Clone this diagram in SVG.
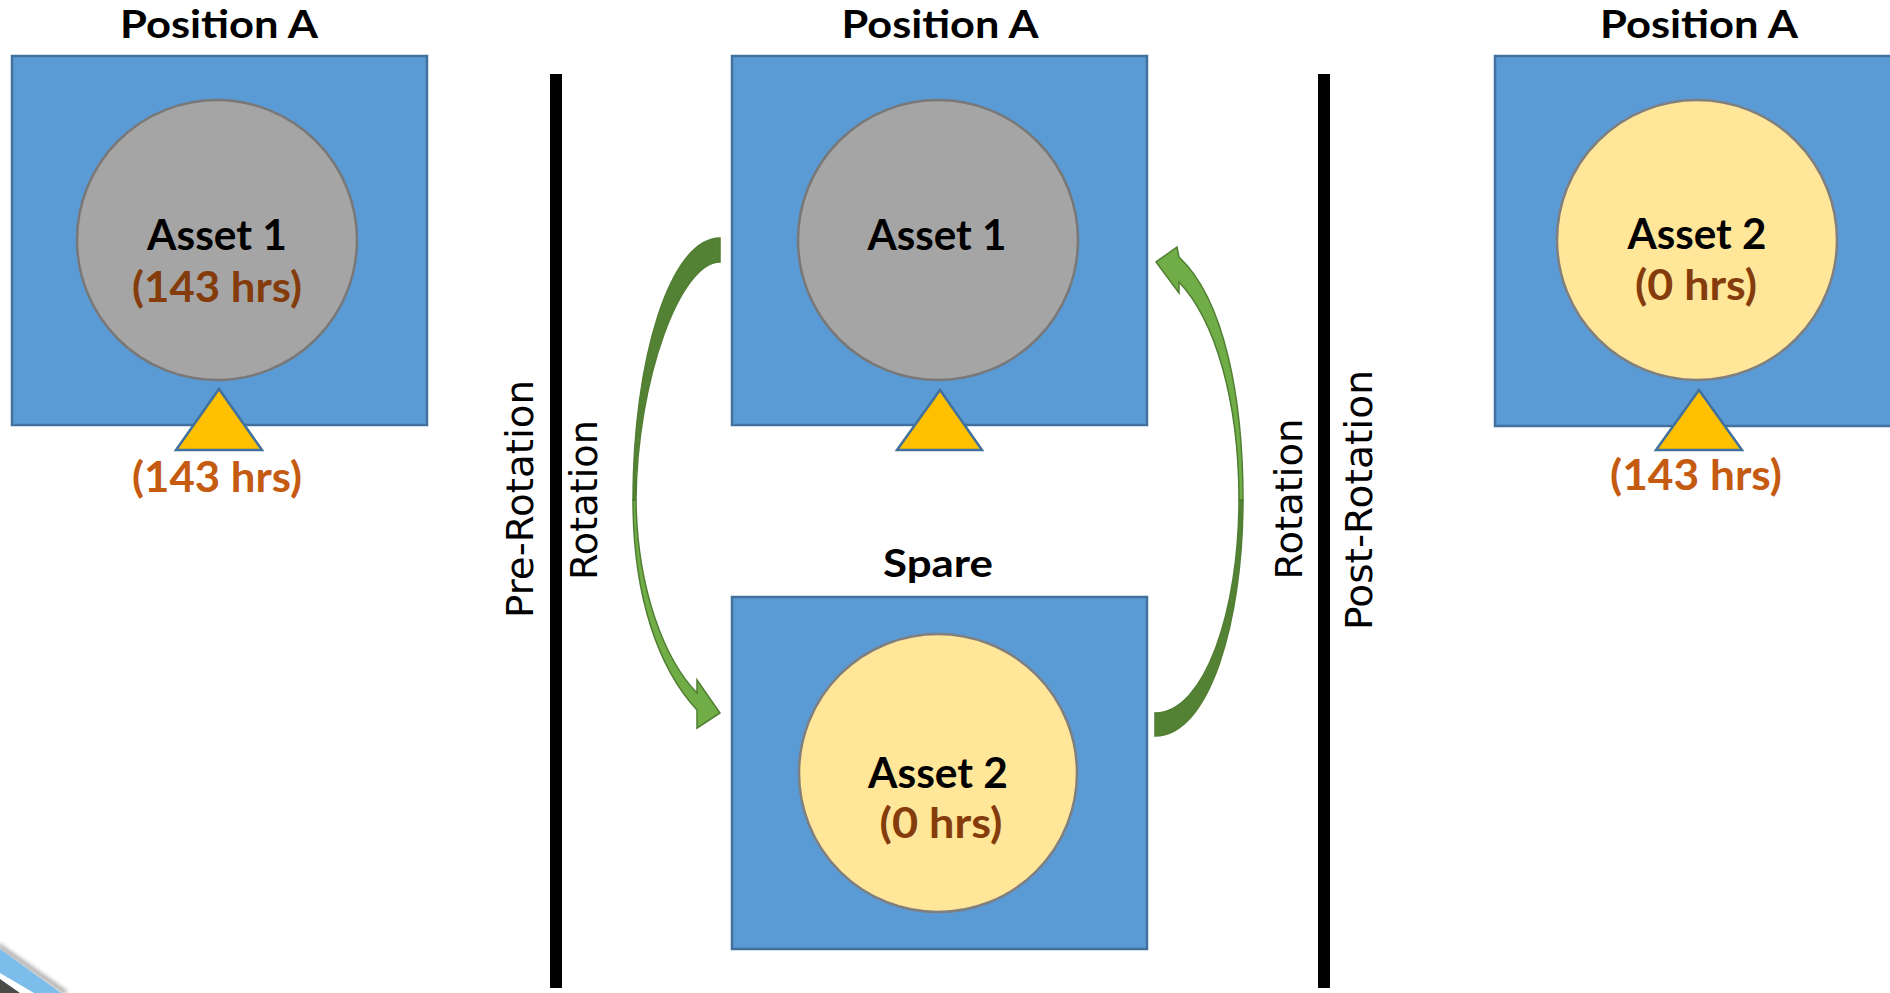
<svg xmlns="http://www.w3.org/2000/svg" width="1890" height="993" viewBox="0 0 1890 993">
<style>
.box{fill:#5B9BD5;stroke:#41719C;stroke-width:2.5}
.gray{fill:#A5A5A5;stroke:#787878;stroke-width:2.5}
.yel{fill:#FFE699;stroke:#7F7F7F;stroke-width:2.5}
.tri{fill:#FFC000;stroke:#41719C;stroke-width:2.5;stroke-linejoin:miter}
.title{font-family:Lato,"Liberation Sans",sans-serif;font-weight:bold;font-size:39px;fill:#000;text-anchor:middle}
.lbl{font-family:Lato,"Liberation Sans",sans-serif;font-weight:bold;font-size:42px;fill:#000;text-anchor:middle}
.hrs{font-family:Lato,"Liberation Sans",sans-serif;font-weight:bold;font-size:42px;fill:#843C0C;text-anchor:middle}
.hrs2{font-family:Lato,"Liberation Sans",sans-serif;font-weight:bold;font-size:42px;fill:#C55A11;text-anchor:middle}
.rot{font-family:"DejaVu Sans",sans-serif;font-size:37px;fill:#000;text-anchor:middle}
.dark{fill:#548235;stroke:#507E32;stroke-width:1.5}
.light{fill:#70AD47;stroke:#507E32;stroke-width:1.5;stroke-linejoin:miter}
</style>
<defs>
<filter id="blur" x="-20%" y="-20%" width="140%" height="140%"><feGaussianBlur stdDeviation="2"/></filter>
</defs>
<rect width="1890" height="993" fill="#fff"/>

<g id="corner-fragment">
<line x1="-2" y1="945" x2="66" y2="993" stroke="#777" stroke-width="4" filter="url(#blur)" opacity="0.7"/>
<polygon points="0,949 61,993 34,993 0,973" fill="#7DBDEB"/>
<polygon points="0,979 20,993 0,993" fill="#4A4A48"/>
</g>

<g id="pre-rotation-position-a">
<text class="title" x="219" y="38" textLength="198" lengthAdjust="spacingAndGlyphs">Position A</text>
<rect class="box" x="12" y="56" width="415" height="369"/>
<circle class="gray" cx="217" cy="240" r="140"/>
<text class="lbl" x="217" y="250" textLength="140" lengthAdjust="spacingAndGlyphs">Asset 1</text>
<text class="hrs" x="217" y="302" textLength="170" lengthAdjust="spacingAndGlyphs">(143 hrs)</text>
<polygon class="tri" points="219,389 262,450 176,450"/>
<text class="hrs2" x="217" y="492" textLength="170" lengthAdjust="spacingAndGlyphs">(143 hrs)</text>
</g>

<g id="dividers">
<rect x="550" y="74" width="12" height="914" fill="#000"/>
<rect x="1318" y="74" width="12" height="914" fill="#000"/>
<text class="rot" transform="translate(533,499) rotate(-90)" textLength="238" lengthAdjust="spacingAndGlyphs">Pre-Rotation</text>
<text class="rot" transform="translate(597,500) rotate(-90)" textLength="160" lengthAdjust="spacingAndGlyphs">Rotation</text>
<text class="rot" transform="translate(1302,499) rotate(-90)" textLength="161" lengthAdjust="spacingAndGlyphs">Rotation</text>
<text class="rot" transform="translate(1372,500) rotate(-90)" textLength="260" lengthAdjust="spacingAndGlyphs">Post-Rotation</text>
</g>

<g id="rotation-position-a">
<text class="title" x="940" y="38" textLength="197" lengthAdjust="spacingAndGlyphs">Position A</text>
<rect class="box" x="732" y="56" width="415" height="369"/>
<circle class="gray" cx="938" cy="240" r="140"/>
<text class="lbl" x="937" y="250" textLength="139" lengthAdjust="spacingAndGlyphs">Asset 1</text>
<polygon class="tri" points="940,390 982,450 897,450"/>
</g>

<g id="rotation-spare">
<text class="title" x="938" y="577" textLength="110" lengthAdjust="spacingAndGlyphs">Spare</text>
<rect class="box" x="732" y="597" width="415" height="352"/>
<circle class="yel" cx="938" cy="773" r="139"/>
<text class="lbl" x="938" y="788" textLength="140" lengthAdjust="spacingAndGlyphs">Asset 2</text>
<text class="hrs" x="941" y="838" textLength="123" lengthAdjust="spacingAndGlyphs">(0 hrs)</text>
</g>

<g id="post-rotation-position-a">
<text class="title" x="1699" y="38" textLength="198" lengthAdjust="spacingAndGlyphs">Position A</text>
<rect class="box" x="1495" y="56" width="415" height="370"/>
<circle class="yel" cx="1697" cy="240" r="140"/>
<text class="lbl" x="1697" y="249" textLength="139" lengthAdjust="spacingAndGlyphs">Asset 2</text>
<text class="hrs" x="1696" y="300" textLength="122" lengthAdjust="spacingAndGlyphs">(0 hrs)</text>
<polygon class="tri" points="1699,390 1742,450 1656,450"/>
<text class="hrs2" x="1696" y="490" textLength="172" lengthAdjust="spacingAndGlyphs">(143 hrs)</text>
</g>

<g id="connectors">
<g id="arrow-out">
<path class="dark" d="M720,238 C670,238 633,360 633,500 L636,500 C637,380 680,262 720,262 Z"/>
<path class="light" d="M633,500 C633,600 660,670 697,710 L697,728 L720,713 L697,680 L697,693 C665,660 637,590 636,500 Z"/>
</g>
<g id="arrow-in">
<path class="dark" d="M1243,500 C1243,620 1210,736 1155,736 L1155,713 C1205,713 1239,610 1239,500 Z"/>
<path class="light" d="M1243,500 C1243,400 1225,300 1179,257 L1177,247 L1156,262 L1179,293 L1179,282 C1215,320 1239,400 1239,500 Z"/>
</g>
</g>
</svg>
